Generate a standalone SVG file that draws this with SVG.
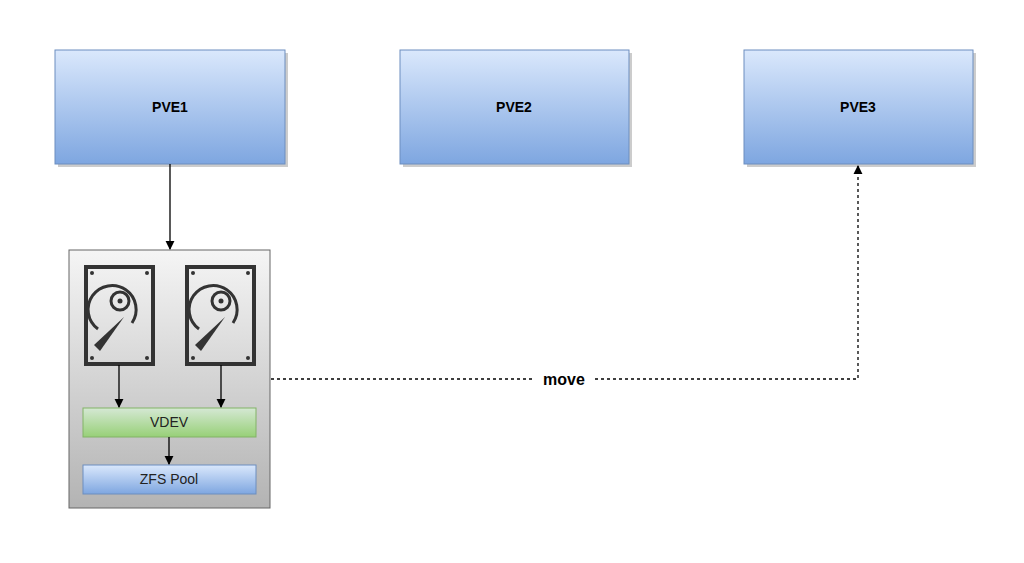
<svg xmlns="http://www.w3.org/2000/svg" width="1024" height="563" viewBox="0 0 1024 563">
<defs>
<linearGradient id="bl" x1="0" y1="0" x2="0" y2="1"><stop offset="0" stop-color="#dae8fc"/><stop offset="1" stop-color="#7ea6e0"/></linearGradient>
<linearGradient id="gr" x1="0" y1="0" x2="0" y2="1"><stop offset="0" stop-color="#d5e8d4"/><stop offset="1" stop-color="#97d077"/></linearGradient>
<linearGradient id="gy" x1="0" y1="0" x2="0" y2="1"><stop offset="0" stop-color="#f5f5f5"/><stop offset="1" stop-color="#b3b3b3"/></linearGradient>
<marker id="ah" viewBox="0 0 10 10" refX="9" refY="5" markerWidth="7" markerHeight="7" orient="auto"><path d="M0,0 L10,5 L0,10 Z" fill="#000"/></marker>
<g id="disk">
<rect x="0" y="0" width="67" height="97" fill="none" stroke="#333" stroke-width="4"/>
<circle cx="6" cy="6" r="2" fill="#333"/><circle cx="61" cy="6" r="2" fill="#333"/><circle cx="6" cy="91" r="2" fill="#333"/><circle cx="61" cy="91" r="2" fill="#333"/>
<path d="M12,62 A24,24 0 1 1 46,56" fill="none" stroke="#333" stroke-width="3"/>
<circle cx="34" cy="34" r="9" fill="none" stroke="#333" stroke-width="3"/>
<circle cx="34" cy="34" r="2.5" fill="#333"/>
<path d="M38,50 L14,84 L8,78 Z" fill="#333"/>
</g>
</defs>
<style>
.sh{fill:#aaa;opacity:.6}
.t{font-family:"Liberation Sans",Arial,sans-serif;text-anchor:middle}
.b{font-weight:bold;font-size:14px;fill:#000}
.s{font-size:14px;fill:#222}
.ln{stroke:#000;stroke-width:1.3;fill:none}
</style>
<rect width="1024" height="563" fill="#fff"/>
<g id="pve1"><rect class="sh" x="58" y="53" width="230" height="114"/><rect x="55" y="50" width="230" height="114" fill="url(#bl)" stroke="#6c8ebf"/><text class="t b" x="170" y="112">PVE1</text></g>
<g id="pve2"><rect class="sh" x="403" y="53" width="229" height="114"/><rect x="400" y="50" width="229" height="114" fill="url(#bl)" stroke="#6c8ebf"/><text class="t b" x="514" y="112">PVE2</text></g>
<g id="pve3"><rect class="sh" x="747" y="53" width="229" height="114"/><rect x="744" y="50" width="229" height="114" fill="url(#bl)" stroke="#6c8ebf"/><text class="t b" x="858" y="112">PVE3</text></g>
<g id="storage">
<rect x="69" y="250" width="201" height="258" fill="url(#gy)" stroke="#666"/>
<use href="#disk" x="86" y="267"/>
<use href="#disk" x="187" y="267"/>
</g>
<g id="vdev"><rect x="83" y="408" width="173" height="29" fill="url(#gr)" stroke="#82b366"/><text class="t s" x="169" y="427">VDEV</text></g>
<g id="zfs"><rect x="83" y="465" width="173" height="29" fill="url(#bl)" stroke="#6c8ebf"/><text class="t s" x="169" y="484">ZFS Pool</text></g>
<g id="connectors">
<path class="ln" d="M170,164 V249" marker-end="url(#ah)"/>
<path class="ln" d="M119,365 V407" marker-end="url(#ah)"/>
<path class="ln" d="M221,365 V407" marker-end="url(#ah)"/>
<path class="ln" d="M169,437 V464" marker-end="url(#ah)"/>
<path class="ln" d="M271,379 H858 V166" stroke-dasharray="3,3" marker-end="url(#ah)"/>
<rect x="534" y="369" width="60" height="20" fill="#fff"/>
<text class="t b" x="564" y="385" style="font-size:16px">move</text>
</g>
</svg>
